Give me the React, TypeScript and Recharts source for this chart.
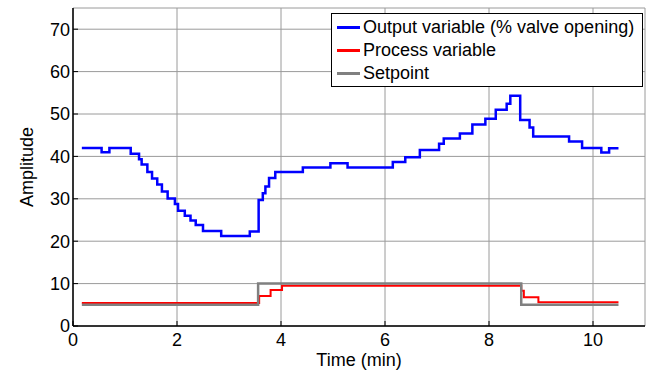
import { CartesianGrid, Legend, Line, LineChart, XAxis, YAxis } from "recharts";

const outputTime = [
  0.17, 0.55, 0.7, 1.11, 1.27, 1.32, 1.43, 1.52, 1.62, 1.71, 1.82, 1.96, 2.02, 2.15, 2.26, 2.36, 2.5, 2.85,
  3.4, 3.57, 3.65, 3.7, 3.77, 3.89, 4.42, 4.95, 5.28, 6.15, 6.39, 6.67, 7.04, 7.13, 7.44, 7.68, 7.93, 8.13,
  8.34, 8.41, 8.6, 8.78, 8.85, 9.54, 9.79, 10.16, 10.31, 10.49,
];
const outputValue = [
  42, 41, 42, 40.6, 39.3, 38.1, 36.3, 34.8, 33.4, 31.7, 30.1, 28.8, 27.2, 26.0, 24.9, 23.8, 22.4, 21.2,
  22.3, 29.7, 31.3, 32.9, 34.9, 36.3, 37.4, 38.4, 37.4, 38.7, 39.8, 41.5, 43.0, 44.2, 45.4, 47.5, 48.9, 51.0,
  52.4, 54.3, 48.6, 46.8, 44.7, 43.5, 42.0, 40.9, 41.9, 41.9,
];
const processTime = [0.17, 3.58, 3.8, 4.02, 8.62, 8.67, 8.95, 10.49];
const processValue = [5.4, 7.1, 8.5, 9.5, 8.3, 6.8, 5.6, 5.6];
const setpointTime = [0.17, 3.56, 8.62, 10.49];
const setpointValue = [5, 10, 5, 5];

const xTicks = [0, 2, 4, 6, 8, 10];
const yTicks = [0, 10, 20, 30, 40, 50, 60, 70];

const zip = (t: number[], v: number[]) => t.map((time, i) => ({ time, value: v[i] }));

const outputData = zip(outputTime, outputValue);
const processData = zip(processTime, processValue);
const setpointData = zip(setpointTime, setpointValue);

const font = "'Liberation Sans', Arial, Helvetica, sans-serif";
const tickStyle = { fill: "#000", fontSize: 18, fontFamily: font };
const axisLine = { stroke: "#000", strokeWidth: 1.5 };

function LegendBox({ payload }: any) {
  return (
    <div
      style={{
        width: 312,
        height: 74,
        boxSizing: "border-box",
        border: "1.5px solid #000",
        background: "#fff",
        padding: "2px 0 0 5px",
        fontFamily: font,
        fontSize: 18,
        color: "#000",
      }}
    >
      {(payload || []).map((item: any) => (
        <div key={item.value} style={{ display: "flex", alignItems: "center", height: 23 }}>
          <span style={{ display: "inline-block", width: 23, height: 2.5, background: item.color, marginRight: 3 }} />
          <span>{item.value}</span>
        </div>
      ))}
    </div>
  );
}

export default function App() {
  return (
    <div style={{ position: "absolute", left: 0, top: 0 }}>
      <LineChart width={654} height={370} margin={{ top: 8, right: 9, bottom: 0, left: 13 }}>
        <CartesianGrid stroke="#9a9a9a" />
        <XAxis
          dataKey="time"
          type="number"
          domain={[0, 11]}
          ticks={xTicks}
          allowDataOverflow
          height={44}
          tickSize={-5}
          tickMargin={12}
          axisLine={axisLine}
          tickLine={{ stroke: "#000" }}
          tick={tickStyle}
          label={{ value: "Time (min)", position: "insideBottom", offset: 4, style: { fill: "#000", fontSize: 18, fontFamily: font } }}
        />
        <XAxis
          xAxisId="top"
          orientation="top"
          dataKey="time"
          type="number"
          domain={[0, 11]}
          ticks={xTicks}
          allowDataOverflow
          height={0}
          tickSize={-5}
          tick={false}
          axisLine={axisLine}
          tickLine={{ stroke: "#000" }}
        />
        <YAxis
          type="number"
          domain={[0, 75]}
          ticks={yTicks}
          allowDataOverflow
          width={60}
          tickSize={-5}
          tickMargin={8}
          axisLine={axisLine}
          tickLine={{ stroke: "#000" }}
          tick={tickStyle}
          label={{
            value: "Amplitude",
            angle: -90,
            position: "insideLeft",
            offset: 14,
            style: { textAnchor: "middle", fill: "#000", fontSize: 18, fontFamily: font },
          }}
        />
        <YAxis
          yAxisId="right"
          orientation="right"
          type="number"
          domain={[0, 75]}
          ticks={yTicks}
          allowDataOverflow
          width={0}
          tickSize={-5}
          tick={false}
          axisLine={axisLine}
          tickLine={{ stroke: "#000" }}
        />
        <Legend
          layout="vertical"
          align="center"
          verticalAlign="middle"
          wrapperStyle={{ left: 331, top: 13, width: 312 }}
          content={<LegendBox />}
        />
        <Line
          data={outputData}
          dataKey="value"
          name="Output variable (% valve opening)"
          type="stepAfter"
          stroke="#0000ff"
          strokeWidth={2.5}
          dot={false}
          isAnimationActive={false}
        />
        <Line
          data={processData}
          dataKey="value"
          name="Process variable"
          type="stepAfter"
          stroke="#ff0000"
          strokeWidth={2}
          dot={false}
          isAnimationActive={false}
        />
        <Line
          data={setpointData}
          dataKey="value"
          name="Setpoint"
          type="stepAfter"
          stroke="#808080"
          strokeWidth={2.5}
          dot={false}
          isAnimationActive={false}
        />
      </LineChart>
    </div>
  );
}
